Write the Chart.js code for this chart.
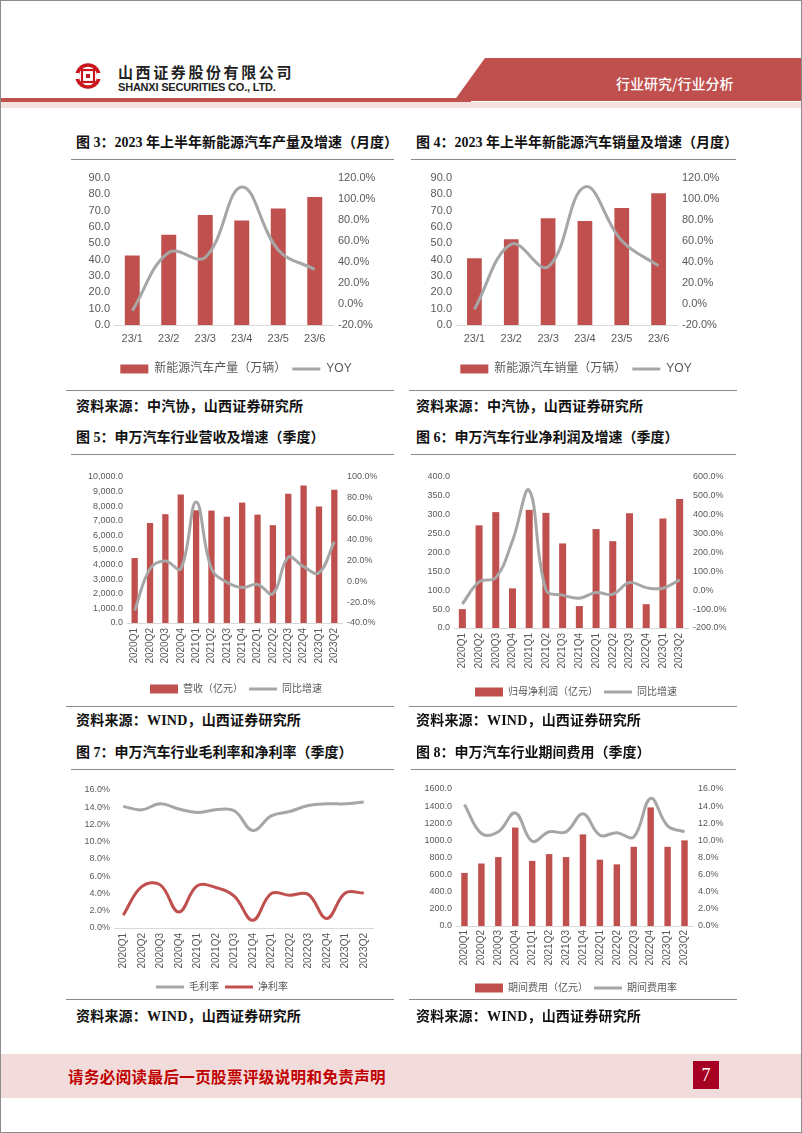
<!DOCTYPE html>
<html>
<head>
<meta charset="utf-8">
<script src="https://cdn.jsdelivr.net/npm/chart.js@4.4.1/dist/chart.umd.min.js"></script>
<style>
  body { margin: 0; background: #fff; }
  #page { position: relative; width: 802px; height: 1133px; overflow: hidden; background: #fff;
          border: 1px solid #8c8c8c; box-sizing: border-box; font-family: "Noto Sans CJK SC", sans-serif; }
  .abs { position: absolute; white-space: nowrap; }
  .title { font: bold 14px "Liberation Serif", "Noto Sans CJK SC", serif; color: #111; height: 20px; line-height: 20px; }
  .src { font: bold 14px "Liberation Serif", "Noto Sans CJK SC", serif; color: #111; height: 20px; line-height: 20px; letter-spacing: 0.2px; }
  .rule { position: absolute; height: 1px; background: #8a8a8a; }
  canvas { position: absolute; }
</style>
</head>
<body>
<div id="page">
  <!-- header -->
  <svg class="abs" style="left:0;top:0" width="802" height="110">
    <polygon points="484,57 802,57 802,100 453,100" fill="#C0504D"/>
    <rect x="0" y="97" width="470" height="4" fill="#C0504D"/>
    <rect x="0" y="101" width="802" height="6" fill="#F4E1E0"/>
    <circle cx="87" cy="75" r="11" fill="none" stroke="#C8161D" stroke-width="3.6"/>
    <rect x="74" y="72" width="4" height="6" fill="#fff"/>
    <rect x="96" y="72" width="4" height="6" fill="#fff"/>
    <rect x="81" y="69" width="12" height="12" fill="none" stroke="#C8161D" stroke-width="2.2"/>
    <rect x="85" y="73" width="4" height="4" fill="#C8161D"/>
  </svg>
  <div class="abs" style="left:117px;top:61px;font:bold 15px 'Noto Sans CJK SC';letter-spacing:2.6px;color:#222;line-height:19px">山西证券股份有限公司</div>
  <div class="abs" style="left:117px;top:80px;font:bold 11px 'Liberation Sans';letter-spacing:-0.2px;color:#222;line-height:13px">SHANXI SECURITIES CO., LTD.</div>
  <div class="abs" style="left:615px;top:72px;font:500 14px 'Noto Sans CJK SC';color:#fff;line-height:20px">行业研究/行业分析</div>

  <!-- row 1 -->
  <div class="abs title" style="left:75px;top:132px">图 3：2023 年上半年新能源汽车产量及增速（月度）</div>
  <div class="abs title" style="left:415px;top:132px">图 4：2023 年上半年新能源汽车销量及增速（月度）</div>
  <div class="rule" style="left:70px;top:158px;width:323px"></div>
  <div class="rule" style="left:410px;top:158px;width:325px"></div>
  <canvas id="c3"></canvas>
  <canvas id="c4"></canvas>
  <div class="rule" style="left:65px;top:389px;width:328px"></div>
  <div class="rule" style="left:408px;top:389px;width:328px"></div>
  <div class="abs src" style="left:75px;top:396px">资料来源：中汽协，山西证券研究所</div>
  <div class="abs src" style="left:415px;top:396px">资料来源：中汽协，山西证券研究所</div>

  <!-- row 2 -->
  <div class="abs title" style="left:75px;top:427px">图 5：申万汽车行业营收及增速（季度）</div>
  <div class="abs title" style="left:415px;top:427px">图 6：申万汽车行业净利润及增速（季度）</div>
  <div class="rule" style="left:70px;top:453px;width:323px"></div>
  <div class="rule" style="left:410px;top:453px;width:325px"></div>
  <canvas id="c5"></canvas>
  <canvas id="c6"></canvas>
  <div class="rule" style="left:65px;top:705px;width:328px"></div>
  <div class="rule" style="left:408px;top:705px;width:328px"></div>
  <div class="abs src" style="left:75px;top:710px">资料来源：WIND，山西证券研究所</div>
  <div class="abs src" style="left:415px;top:710px">资料来源：WIND，山西证券研究所</div>

  <!-- row 3 -->
  <div class="abs title" style="left:75px;top:742px">图 7：申万汽车行业毛利率和净利率（季度）</div>
  <div class="abs title" style="left:415px;top:742px">图 8：申万汽车行业期间费用（季度）</div>
  <div class="rule" style="left:70px;top:768px;width:323px"></div>
  <div class="rule" style="left:410px;top:768px;width:325px"></div>
  <canvas id="c7"></canvas>
  <canvas id="c8"></canvas>
  <div class="rule" style="left:65px;top:998px;width:328px"></div>
  <div class="rule" style="left:408px;top:998px;width:328px"></div>
  <div class="abs src" style="left:75px;top:1006px">资料来源：WIND，山西证券研究所</div>
  <div class="abs src" style="left:415px;top:1006px">资料来源：WIND，山西证券研究所</div>

  <!-- footer -->
  <div class="abs" style="left:0;top:1053px;width:802px;height:44px;background:#F2DCDB"></div>
  <div class="abs" style="left:67px;top:1064px;font:bold 15.5px 'Noto Sans CJK SC';letter-spacing:0.4px;color:#C00000;line-height:22px">请务必阅读最后一页股票评级说明和免责声明</div>
  <div class="abs" style="left:692px;top:1060px;width:26px;height:28px;background:#A50021;color:#fff;font:18px 'Liberation Serif';line-height:28px;text-align:center">7</div>
</div>

<script>
// 数据
const months = ['23/1', '23/2', '23/3', '23/4', '23/5', '23/6'];
const quarters = ['2020Q1', '2020Q2', '2020Q3', '2020Q4', '2021Q1', '2021Q2', '2021Q3', '2021Q4',
                  '2022Q1', '2022Q2', '2022Q3', '2022Q4', '2023Q1', '2023Q2'];

// 图3 产量（万辆）及同比（%）
const nevOutput = [42.5, 55.2, 67.4, 64.0, 71.3, 78.4];
const nevOutputYoy = [-6.5, 49.0, 44.5, 111.5, 51.5, 33.0];
// 图4 销量（万辆）及同比（%）
const nevSales = [40.8, 52.5, 65.3, 63.6, 71.7, 80.6];
const nevSalesYoy = [-5.0, 57.0, 35.4, 111.5, 60.2, 36.3];
// 图5 营收（亿元）及同比（%）
const revenue = [4450, 6850, 7450, 8800, 7720, 7700, 7280, 8250, 7420, 6700, 8850, 9420, 7980, 9120];
const revenueYoy = [-28, 12, 19.5, 12, 76, 12, -1, -6, -3, -12, 23, 14, 8, 38];
// 图6 归母净利润（亿元）及同比（%）
const profit = [50, 272, 307, 105, 313, 305, 224, 58, 262, 230, 304, 63, 290, 342];
const profitYoy = [-73, 44, 67, 262, 529, 2, -26, -42, -12, -21, 41, 14, 11, 55];
// 图7 毛利率、净利率（%）
const grossMargin = [14.1, 13.7, 14.4, 13.8, 13.4, 13.7, 13.6, 11.3, 13.0, 13.5, 14.2, 14.4, 14.4, 14.6];
const netMargin = [1.5, 4.8, 5.0, 1.85, 4.9, 4.7, 3.7, 0.9, 4.0, 3.8, 3.9, 1.1, 4.05, 4.05];
// 图8 期间费用（亿元）及期间费用率（%）
const expense = [620, 730, 805, 1150, 760, 840, 805, 1070, 775, 720, 925, 1385, 925, 1000];
const expenseRate = [14.2, 10.8, 11.0, 13.2, 9.9, 11.0, 11.0, 13.1, 10.6, 10.9, 10.4, 14.9, 11.7, 11.0];

const RED = '#C0504D';
const GREY = '#A6A6A6';
const TXT = '#595959';
Chart.defaults.font.family = '"Liberation Sans", "Noto Sans CJK SC", sans-serif';
Chart.defaults.color = TXT;

const fmt1 = v => v.toFixed(1);
const fmtThousands = v => v.toLocaleString('en-US', { minimumFractionDigits: 1, maximumFractionDigits: 1 });
const fmtPct = v => v.toFixed(1) + '%';

function legendItems(chart) {
  return chart.data.datasets.map((ds, i) => {
    const isLine = ds.type === 'line';
    return {
      text: ds.label,
      datasetIndex: i,
      fillStyle: isLine ? ds.borderColor : ds.backgroundColor,
      strokeStyle: isLine ? ds.borderColor : ds.backgroundColor,
      lineWidth: isLine ? 3 : 0,
      pointStyle: isLine ? 'line' : 'rect',
      fontColor: TXT,
      hidden: false
    };
  });
}

function barSet(label, data, pct) {
  return { type: 'bar', label, data, backgroundColor: RED, yAxisID: 'y',
           barPercentage: pct, categoryPercentage: 1, order: 1 };
}
function lineSet(label, data, color, axis) {
  return { type: 'line', label, data, borderColor: color, backgroundColor: color, borderWidth: 3,
           pointRadius: 0, tension: 0.4, yAxisID: axis, order: 0 };
}

// p: canvas box + plot rect (page px)
function panel(id, p) {
  const cv = document.getElementById(id);
  const lp = 6;
  const legendTop = p.legendY - lp - p.legendFont / 2;
  const h = Math.round(legendTop + p.legendFont + lp + 10 - p.top);
  cv.width = p.w; cv.height = h;
  cv.style.left = p.left + 'px'; cv.style.top = p.top + 'px';

  const scales = {
    x: {
      offset: true,
      grid: { display: false, drawTicks: false },
      border: { color: '#D9D9D9', width: 1 },
      ticks: { font: { size: p.xFont }, padding: p.xPad, autoSkip: false,
               minRotation: p.rot, maxRotation: p.rot, color: TXT },
      afterFit: s => { s.height = legendTop - p.plot.b; }
    },
    y: {
      position: 'left', min: p.y.min, max: p.y.max,
      grid: { display: false, drawTicks: false }, border: { display: false },
      ticks: { stepSize: p.y.step, callback: p.y.fmt, font: { size: p.yFont }, padding: 4, color: TXT },
      afterFit: s => { s.width = p.plot.l - p.left; }
    }
  };
  if (p.y1) {
    scales.y1 = {
      position: 'right', min: p.y1.min, max: p.y1.max,
      grid: { display: false, drawTicks: false }, border: { display: false },
      ticks: { stepSize: p.y1.step, callback: p.y1.fmt, font: { size: p.yFont }, padding: 5, color: TXT },
      afterFit: s => { s.width = p.left + p.w - p.plot.r; }
    };
  }

  return new Chart(cv, {
    type: 'bar',
    data: { labels: p.labels, datasets: p.datasets },
    options: {
      responsive: false,
      animation: false,
      layout: { padding: { top: p.plot.t - p.top, left: 0, right: p.y1 ? 0 : p.left + p.w - p.plot.r, bottom: 0 } },
      plugins: {
        legend: {
          position: 'bottom',
          labels: { usePointStyle: true, pointStyleWidth: 28, boxHeight: 9, padding: lp,
                    font: { size: p.legendFont }, color: TXT, generateLabels: legendItems }
        },
        tooltip: { enabled: false }
      },
      scales
    }
  });
}

// 图3
panel('c3', {
  left: 70, top: 165, w: 330, legendY: 368, legendFont: 12,
  plot: { l: 113, r: 332, t: 177, b: 324 },
  xFont: 11, yFont: 11, xPad: 7, rot: 0,
  labels: months,
  y: { min: 0, max: 90, step: 10, fmt: fmt1 },
  y1: { min: -20, max: 120, step: 20, fmt: fmtPct },
  datasets: [barSet('新能源汽车产量（万辆）', nevOutput, 0.41), lineSet('YOY', nevOutputYoy, GREY, 'y1')]
});

// 图4
panel('c4', {
  left: 410, top: 165, w: 330, legendY: 368, legendFont: 12,
  plot: { l: 455, r: 676, t: 177, b: 324 },
  xFont: 11, yFont: 11, xPad: 7, rot: 0,
  labels: months,
  y: { min: 0, max: 90, step: 10, fmt: fmt1 },
  y1: { min: -20, max: 120, step: 20, fmt: fmtPct },
  datasets: [barSet('新能源汽车销量（万辆）', nevSales, 0.4), lineSet('YOY', nevSalesYoy, GREY, 'y1')]
});

// 图5
panel('c5', {
  left: 70, top: 462, w: 330, legendY: 688, legendFont: 10,
  plot: { l: 126, r: 341, t: 476, b: 622 },
  xFont: 10, yFont: 9, xPad: 5, rot: 90,
  labels: quarters,
  y: { min: 0, max: 10000, step: 1000, fmt: fmtThousands },
  y1: { min: -40, max: 100, step: 20, fmt: fmtPct },
  datasets: [barSet('营收（亿元）', revenue, 0.41), lineSet('同比增速', revenueYoy, GREY, 'y1')]
});

// 图6
panel('c6', {
  left: 410, top: 462, w: 330, legendY: 691, legendFont: 10,
  plot: { l: 453, r: 687, t: 476, b: 627 },
  xFont: 10, yFont: 9, xPad: 5, rot: 90,
  labels: quarters,
  y: { min: 0, max: 400, step: 50, fmt: fmt1 },
  y1: { min: -200, max: 600, step: 100, fmt: fmtPct },
  datasets: [barSet('归母净利润（亿元）', profit, 0.42), lineSet('同比增速', profitYoy, GREY, 'y1')]
});

// 图7
panel('c7', {
  left: 70, top: 776, w: 330, legendY: 986, legendFont: 10,
  plot: { l: 113, r: 372, t: 789, b: 927 },
  xFont: 10, yFont: 9, xPad: 5, rot: 90,
  labels: quarters,
  y: { min: 0, max: 16, step: 2, fmt: fmtPct },
  datasets: [lineSet('毛利率', grossMargin, GREY, 'y'), lineSet('净利率', netMargin, RED, 'y')]
});

// 图8
panel('c8', {
  left: 410, top: 776, w: 330, legendY: 987, legendFont: 10,
  plot: { l: 455, r: 692, t: 788, b: 925 },
  xFont: 10, yFont: 9, xPad: 4, rot: 90,
  labels: quarters,
  y: { min: 0, max: 1600, step: 200, fmt: fmt1 },
  y1: { min: 0, max: 16, step: 2, fmt: fmtPct },
  datasets: [barSet('期间费用（亿元）', expense, 0.38), lineSet('期间费用率', expenseRate, GREY, 'y1')]
});
</script>
</body>
</html>
